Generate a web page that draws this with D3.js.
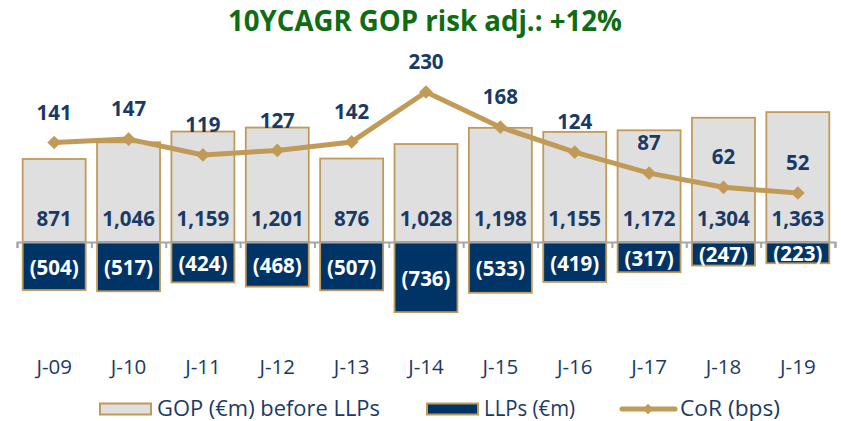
<!DOCTYPE html>
<html>
<head>
<meta charset="utf-8">
<script src="https://cdn.jsdelivr.net/npm/d3@7"></script>
<style>
  body { margin: 0; background: #fff; }
  text { font-family: "Open Sans", "DejaVu Sans", sans-serif; }
</style>
</head>
<body>
<div id="chart"></div>
<script>
// data
var years = ["J-09", "J-10", "J-11", "J-12", "J-13", "J-14", "J-15", "J-16", "J-17", "J-18", "J-19"];
var gop = [871, 1046, 1159, 1201, 876, 1028, 1198, 1155, 1172, 1304, 1363];
var llps = [-504, -517, -424, -468, -507, -736, -533, -419, -317, -247, -223];
var cor = [141, 147, 119, 127, 142, 230, 168, 124, 87, 62, 52];
var title = "10YCAGR GOP risk adj.: +12%";
var legendLabels = ["GOP (€m) before LLPs", "LLPs (€m)", "CoR (bps)"];

var width = 841, height = 421;
var base = 242;
var gold = "#c29a58", navy = "#003466", grey = "#dfdfdf", ink = "#1a3a66";

var fmt = d3.format(",");
var fmtNeg = function(v) { return "(" + fmt(Math.abs(v)) + ")"; };

var svg = d3.select("#chart").append("svg")
	.attr("width", width)
	.attr("height", height);

var x = d3.scaleBand()
	.domain(years)
	.range([17, 835])
	.paddingInner(0.153)
	.paddingOuter(0.0765);

// bars share one scale, CoR has its own
var y = d3.scaleLinear().domain([0, 1000]).range([base, base - 95.3]);
var yc = d3.scaleLinear().domain([0, 230]).range([222.5, 92]);

svg.append("text")
	.attr("x", 425)
	.attr("y", 31)
	.attr("text-anchor", "middle")
	.attr("textLength", 394)
	.attr("lengthAdjust", "spacingAndGlyphs")
	.style("font-size", "28px")
	.style("font-weight", "bold")
	.style("fill", "#0e6d12")
	.text(title);

// GOP bars
svg.append("g").selectAll("rect")
	.data(gop)
	.enter().append("rect")
		.attr("x", function(d, i) { return x(years[i]); })
		.attr("y", function(d) { return y(d); })
		.attr("width", x.bandwidth())
		.attr("height", function(d) { return y(0) - y(d); })
		.attr("fill", grey)
		.attr("stroke", gold)
		.attr("stroke-width", 1.8);

// LLP bars
svg.append("g").selectAll("rect")
	.data(llps)
	.enter().append("rect")
		.attr("x", function(d, i) { return x(years[i]); })
		.attr("y", y(0))
		.attr("width", x.bandwidth())
		.attr("height", function(d) { return y(d) - y(0); })
		.attr("fill", navy)
		.attr("stroke", gold)
		.attr("stroke-width", 1.8);

// axis with ticks at category edges
var xe = d3.scaleLinear().domain([0, years.length]).range(x.range());
var axis = svg.append("g")
	.attr("transform", "translate(0," + base + ")")
	.call(d3.axisBottom(xe).ticks(years.length).tickSize(6).tickSizeOuter(6).tickFormat(""));
axis.selectAll("path, line").attr("stroke", "#a6a6a6").attr("stroke-width", 2);

// category labels
var cat = svg.append("g")
	.attr("transform", "translate(0,357)")
	.call(d3.axisBottom(x).tickSize(0).tickPadding(0));
cat.select(".domain").remove();
cat.selectAll("text")
	.attr("dy", "0.35em")
	.attr("y", 10)
	.style("font-family", "'Open Sans', sans-serif")
	.style("font-size", "20.5px")
	.style("fill", ink);

// value labels
svg.append("g").selectAll("text")
	.data(gop)
	.enter().append("text")
		.attr("x", function(d, i) { return x(years[i]) + x.bandwidth() / 2; })
		.attr("y", base - 23)
		.attr("dy", "0.35em")
		.attr("text-anchor", "middle")
		.style("font-size", "20.5px")
		.style("font-weight", "bold")
		.style("fill", ink)
		.text(function(d) { return fmt(d); });

svg.append("g").selectAll("text")
	.data(llps)
	.enter().append("text")
		.attr("x", function(d, i) { return x(years[i]) + x.bandwidth() / 2; })
		.attr("y", function(d) { return (y(0) + y(d)) / 2 + 1.5; })
		.attr("dy", "0.35em")
		.attr("text-anchor", "middle")
		.style("font-size", "20.5px")
		.style("font-weight", "bold")
		.style("fill", "#fff")
		.text(function(d) { return fmtNeg(d); });

// CoR line
var cx = function(d, i) { return x(years[i]) + x.bandwidth() / 2; };
var line = d3.line()
	.x(cx)
	.y(function(d) { return yc(d); });

svg.append("path")
	.datum(cor)
	.attr("d", line)
	.attr("fill", "none")
	.attr("stroke", gold)
	.attr("stroke-width", 5)
	.attr("stroke-linejoin", "round");

var diamond = d3.symbol().type(d3.symbolDiamond2).size(120);
svg.append("g").selectAll("path")
	.data(cor)
	.enter().append("path")
		.attr("d", diamond)
		.attr("transform", function(d, i) { return "translate(" + cx(d, i) + "," + yc(d) + ")"; })
		.attr("fill", gold);

svg.append("g").selectAll("text")
	.data(cor)
	.enter().append("text")
		.attr("x", cx)
		.attr("y", function(d) { return yc(d) - 30; })
		.attr("dy", "0.35em")
		.attr("text-anchor", "middle")
		.style("font-size", "20.5px")
		.style("font-weight", "bold")
		.style("fill", ink)
		.text(function(d) { return d; });

// legend
var leg = svg.append("g");
var ly = 409;
leg.append("rect").attr("x", 100).attr("y", ly - 5.5).attr("width", 51).attr("height", 11)
	.attr("fill", grey).attr("stroke", gold).attr("stroke-width", 2);
leg.append("rect").attr("x", 427).attr("y", ly - 5.5).attr("width", 51).attr("height", 11)
	.attr("fill", navy).attr("stroke", gold).attr("stroke-width", 2);
leg.append("line").attr("x1", 622).attr("x2", 675).attr("y1", ly).attr("y2", ly)
	.attr("stroke", gold).attr("stroke-width", 5).attr("stroke-linecap", "round");
leg.append("path").attr("d", d3.symbol().type(d3.symbolDiamond2).size(70))
	.attr("transform", "translate(648," + ly + ")").attr("fill", gold);

var lx = [157, 484, 680];
var lw = [223, 91, 100];
leg.selectAll("text")
	.data(legendLabels)
	.enter().append("text")
		.attr("x", function(d, i) { return lx[i]; })
		.attr("y", ly)
		.attr("dy", "0.35em")
		.attr("textLength", function(d, i) { return lw[i]; })
		.attr("lengthAdjust", "spacingAndGlyphs")
		.style("font-size", "21px")
		.style("fill", ink)
		.text(function(d) { return d; });
</script>
</body>
</html>
